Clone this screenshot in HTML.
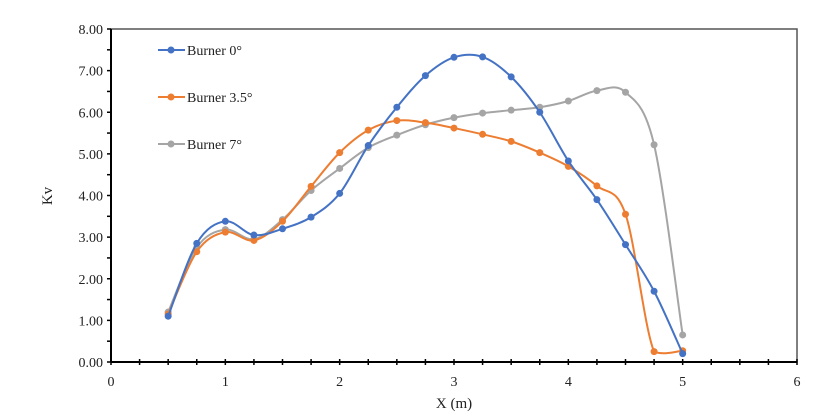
<!DOCTYPE html>
<html><head><meta charset="utf-8">
<style>
html,body{margin:0;padding:0;background:#fff;}
svg{display:block;font-family:"Liberation Serif",serif;}
</style></head>
<body>
<svg id="chart" width="831" height="419" viewBox="0 0 831 419" xmlns="http://www.w3.org/2000/svg">
<rect width="831" height="419" fill="#fff"/>
<g id="axes"></g>
<g id="series"></g>
<g id="legend"></g>
</svg>
<script>
const xValues=[0.5,0.75,1,1.25,1.5,1.75,2,2.25,2.5,2.75,3,3.25,3.5,3.75,4,4.25,4.5,4.75,5];
const burner0=[1.1,2.85,3.38,3.05,3.2,3.48,4.05,5.2,6.12,6.88,7.32,7.33,6.85,6.0,4.83,3.9,2.82,1.7,0.2];
const burner35=[1.15,2.65,3.12,2.92,3.38,4.22,5.03,5.57,5.8,5.75,5.62,5.47,5.3,5.03,4.7,4.23,3.55,0.25,0.27];
const burner7=[1.2,2.75,3.18,2.95,3.42,4.12,4.65,5.15,5.45,5.7,5.87,5.98,6.05,6.12,6.27,6.52,6.48,5.22,0.65];
const seriesNames=["Burner 0°","Burner 3.5°","Burner 7°"];
const xTicks=[0,1,2,3,4,5,6];
const yTicks=[0,1,2,3,4,5,6,7,8];

const NS="http://www.w3.org/2000/svg";
const X0=111,X1=797,Y0=362,Y1=29;
const sx=v=>X0+(v-0)/6*(X1-X0);
const sy=v=>Y0-(v-0)/8*(Y0-Y1);
function mk(tag,attrs,parent){const e=document.createElementNS(NS,tag);for(const k in attrs)e.setAttribute(k,attrs[k]);parent.appendChild(e);return e;}
const axes=document.getElementById('axes');
let el;
el=mk('rect',{x:X0,y:Y1,width:X1-X0,height:Y0-Y1,fill:'none',stroke:'#555','stroke-width':1.5},axes);


el=mk('line',{x1:X0,y1:Y1,x2:X0,y2:Y0,stroke:'#000','stroke-width':2},axes);


el=mk('line',{x1:X0,y1:Y0,x2:X1,y2:Y0,stroke:'#000','stroke-width':2},axes);


for(let v=0;v<=6.001;v+=0.25){const x=sx(v);mk('line',{x1:x,y1:Y0-3,x2:x,y2:Y0+3,stroke:'#000','stroke-width':1.5},axes);}
for(let v=0;v<=8.001;v+=0.5){const y=sy(v);mk('line',{x1:X0-4,y1:y,x2:X0,y2:y,stroke:'#000','stroke-width':1.5},axes);}
xTicks.forEach(v=>{el=mk('text',{x:sx(v),y:Y0+24,'text-anchor':'middle','font-size':14,fill:'#222'},axes);el.textContent=v;

});
yTicks.forEach(v=>{el=mk('text',{x:X0-8,y:sy(v)+5,'text-anchor':'end','font-size':14,fill:'#222'},axes);el.textContent=v.toFixed(2);

});
el=mk('text',{x:sx(3),y:408,'text-anchor':'middle','font-size':15,fill:'#222'},axes);el.textContent='X (m)';


el=mk('text',{x:52,y:196,'text-anchor':'middle','font-size':15,fill:'#222',transform:'rotate(-90 52 196)'},axes);el.textContent='Kv';



const floorY=sy(0.15);
function smooth(pts){let d=`M${pts[0][0]},${pts[0][1]}`;
for(let i=0;i<pts.length-1;i++){const p0=pts[Math.max(0,i-1)],p1=pts[i],p2=pts[i+1],p3=pts[Math.min(pts.length-1,i+2)];const t=6;
let c1y=p1[1]+(p2[1]-p0[1])/t, c2y=p2[1]-(p3[1]-p1[1])/t;
c1y=Math.min(c1y,Math.max(floorY,p1[1]));c2y=Math.min(c2y,Math.max(floorY,p2[1]));
d+=` C${p1[0]+(p2[0]-p0[0])/t},${c1y} ${p2[0]-(p3[0]-p1[0])/t},${c2y} ${p2[0]},${p2[1]}`;}return d;}
const colors=['#4472C4','#ED7D31','#A5A5A5'];
const data=[burner0,burner35,burner7];
const sg=document.getElementById('series');
[2,1,0].forEach(s=>{
const g=mk('g',{},sg);


const pts=xValues.map((x,i)=>[sx(x),sy(data[s][i])]);
mk('path',{d:smooth(pts),fill:'none',stroke:colors[s],'stroke-width':2},g);
pts.forEach(p=>{const c=mk('circle',{cx:p[0],cy:p[1],r:3.5,fill:colors[s]},g);

});
});
const lg=document.getElementById('legend');
seriesNames.forEach((n,i)=>{const y=50+i*47;
const g=mk('g',{},lg);


mk('line',{x1:158,y1:y,x2:185,y2:y,stroke:colors[i],'stroke-width':2},g);
mk('circle',{cx:171,cy:y,r:3.5,fill:colors[i]},g);
const t=mk('text',{x:187,y:y+5,'font-size':14,fill:'#222'},g);t.textContent=n;});
</script>
</body></html>
